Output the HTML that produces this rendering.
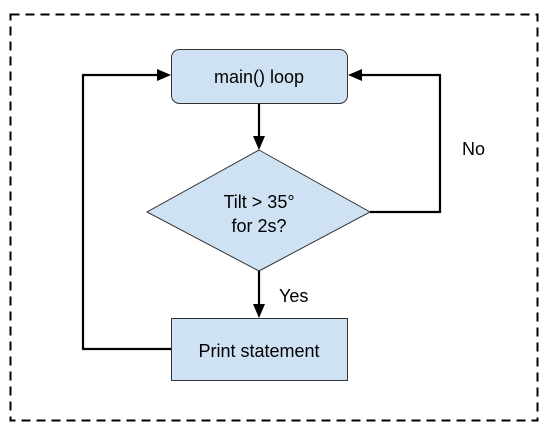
<!DOCTYPE html>
<html><head><style>body{margin:0;background:#fff}svg{display:block}</style></head><body>
<svg width="544" height="430" viewBox="0 0 544 430" font-family="Liberation Sans, Arial, sans-serif">
<rect x="10.5" y="14.5" width="527" height="406" fill="none" stroke="#000" stroke-width="2" stroke-dasharray="9,6"/>
<rect x="171.5" y="49.5" width="176" height="54" rx="8" fill="#cfe2f3" stroke="#333" stroke-width="1"/>
<text x="259" y="83" font-size="18" text-anchor="middle">main() loop</text>
<polygon points="259,150 370,212 259,271 147,212" fill="#cfe2f3" stroke="#333" stroke-width="1"/>
<text x="259" y="208" font-size="18" text-anchor="middle">Tilt &gt; 35°</text>
<text x="259" y="232" font-size="18" text-anchor="middle">for 2s?</text>
<rect x="171.5" y="318.5" width="176" height="62" fill="#cfe2f3" stroke="#333" stroke-width="1"/>
<text x="259" y="357" font-size="18" text-anchor="middle">Print statement</text>
<g stroke="#000" stroke-width="2.2" fill="none">
<line x1="259" y1="104" x2="259" y2="138"/>
<line x1="259" y1="271" x2="259" y2="306"/>
<polyline points="171,349 83,349 83,75 159,75"/>
<polyline points="370,212 440,212 440,75 360,75"/>
</g>
<g fill="#000">
<polygon points="253,136 265,136 259,150"/>
<polygon points="253,304 265,304 259,318"/>
<polygon points="157,69 157,81 171,75"/>
<polygon points="362,69 362,81 348,75"/>
</g>
<text x="279" y="302" font-size="18">Yes</text>
<text x="462" y="155" font-size="18">No</text>
</svg>
</body></html>
